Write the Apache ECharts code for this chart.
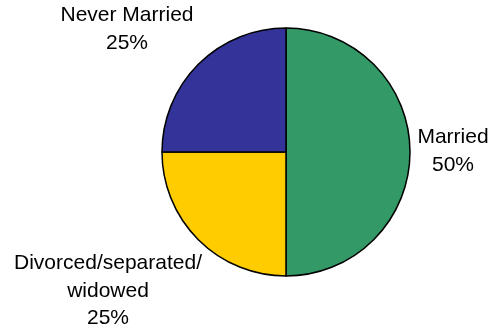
<!DOCTYPE html>
<html>
<head>
<meta charset="utf-8">
<script src="https://cdn.jsdelivr.net/npm/echarts@6/dist/echarts.min.js"></script>
<style>
  html, body { margin: 0; padding: 0; background: #fff; }
  #chart { width: 490px; height: 332px; }
</style>
</head>
<body>
<div id="chart"></div>
<script>
// Marital status shares
const categories = ['Married', 'Divorced/separated/\nwidowed', 'Never Married'];
const shares = [50, 25, 25];
const colors = ['#339966', '#FFCC00', '#333399'];

// Where each label block sits (centre x, centre y of the text block)
const labelSpots = [
  { x: 453, y: 151 },
  { x: 108, y: 291 },
  { x: 127, y: 29 }
];

const chart = echarts.init(document.getElementById('chart'), null, { renderer: 'canvas' });

chart.setOption({
  animation: false,
  series: [{
    type: 'pie',
    center: [286, 152],
    radius: 124,
    startAngle: 90,
    clockwise: true,
    data: categories.map((name, i) => ({
      name: name,
      value: shares[i],
      itemStyle: { color: colors[i] }
    })),
    itemStyle: { borderColor: '#000', borderWidth: 1.5 },
    label: {
      show: true,
      position: 'outside',
      formatter: p => p.name + '\n' + p.value + '%',
      fontFamily: 'Liberation Sans, Arial, sans-serif',
      fontSize: 21,
      lineHeight: 27.5,
      color: '#000',
      align: 'center',
      overflow: 'none',
      width: 240
    },
    labelLine: { show: false },
    labelLayout: params => {
      const s = labelSpots[params.dataIndex];
      return { x: s.x, y: s.y, align: 'center', verticalAlign: 'middle' };
    },
    emphasis: { disabled: true }
  }]
});
</script>
</body>
</html>
